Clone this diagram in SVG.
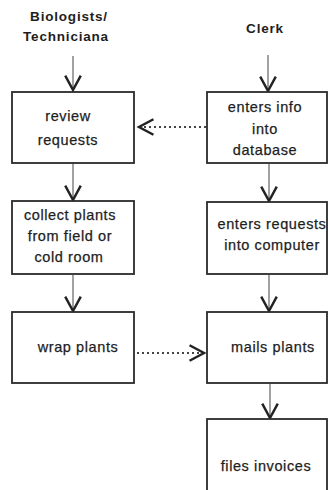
<svg xmlns="http://www.w3.org/2000/svg" width="328" height="490" viewBox="0 0 328 490">
  <style>
    .box { fill: #fff; stroke: #2a2a2a; stroke-width: 1.8; }
    .lbl { font-family: "Liberation Sans", Arial, sans-serif; font-size: 14.5px; fill: #1e1e1e; stroke: #1e1e1e; stroke-width: 0.25; letter-spacing: 0.6px; text-anchor: middle; }
    .hdr { font-family: "Liberation Sans", Arial, sans-serif; font-size: 13.5px; font-weight: bold; fill: #1e1e1e; letter-spacing: 0.8px; text-anchor: middle; }
    .flow { stroke: #555; stroke-width: 1.1; fill: none; }
    .dot { stroke: #444; stroke-width: 2; stroke-dasharray: 2 3; fill: none; }
  </style>
  <defs>
    <marker id="vee" markerUnits="userSpaceOnUse" markerWidth="20" markerHeight="20" viewBox="-14 -9 16 18" refX="0" refY="0" orient="auto">
      <path d="M-13,-7 L0,0 L-13,7" fill="none" stroke="#222" stroke-width="2.2"/>
    </marker>
  </defs>
  <rect width="328" height="490" fill="#fff"/>

  <!-- lane headers -->
  <g id="hdr-biologists">
    <text class="hdr" x="69" y="21">Biologists/</text>
    <text class="hdr" x="66" y="41">Techniciana</text>
  </g>
  <g id="hdr-clerk">
    <text class="hdr" x="265" y="33">Clerk</text>
  </g>

  <!-- connectors -->
  <g id="connectors">
    <line class="flow" x1="73" y1="56" x2="73" y2="90" marker-end="url(#vee)"/>
    <line class="flow" x1="268" y1="55" x2="268" y2="91" marker-end="url(#vee)"/>
    <line class="flow" x1="73" y1="163" x2="73" y2="200" marker-end="url(#vee)"/>
    <line class="flow" x1="73" y1="275" x2="73" y2="311" marker-end="url(#vee)"/>
    <line class="flow" x1="269" y1="164" x2="269" y2="201" marker-end="url(#vee)"/>
    <line class="flow" x1="269" y1="275" x2="269" y2="311" marker-end="url(#vee)"/>
    <line class="flow" x1="270" y1="384" x2="270" y2="418" marker-end="url(#vee)"/>
    <line class="dot" x1="206" y1="127" x2="139" y2="127" marker-end="url(#vee)"/>
    <line class="dot" x1="137" y1="353" x2="204" y2="353" marker-end="url(#vee)"/>
  </g>

  <!-- Biologists / Technicians lane -->
  <g id="review-requests">
    <rect class="box" x="12" y="92" width="122" height="71"/>
    <text class="lbl" x="68" y="121">review</text>
    <text class="lbl" x="68" y="145">requests</text>
  </g>
  <g id="collect-plants">
    <rect class="box" x="12" y="201" width="122" height="73"/>
    <text class="lbl" x="70" y="220">collect plants</text>
    <text class="lbl" x="70" y="241">from field or</text>
    <text class="lbl" x="69" y="262">cold room</text>
  </g>
  <g id="wrap-plants">
    <rect class="box" x="12" y="312" width="122" height="71"/>
    <text class="lbl" x="78" y="352">wrap plants</text>
  </g>

  <!-- Clerk lane -->
  <g id="enters-info">
    <rect class="box" x="207" y="92" width="120" height="71"/>
    <text class="lbl" x="265" y="112">enters info</text>
    <text class="lbl" x="265" y="134">into</text>
    <text class="lbl" x="265" y="155">database</text>
  </g>
  <g id="enters-requests">
    <rect class="box" x="207" y="202" width="120" height="72"/>
    <text class="lbl" x="272" y="229">enters requests</text>
    <text class="lbl" x="272" y="250">into computer</text>
  </g>
  <g id="mails-plants">
    <rect class="box" x="207" y="312" width="120" height="71"/>
    <text class="lbl" x="273" y="352">mails plants</text>
  </g>
  <g id="files-invoices">
    <rect class="box" x="207" y="419" width="120" height="80"/>
    <text class="lbl" x="266" y="471">files invoices</text>
  </g>
</svg>
